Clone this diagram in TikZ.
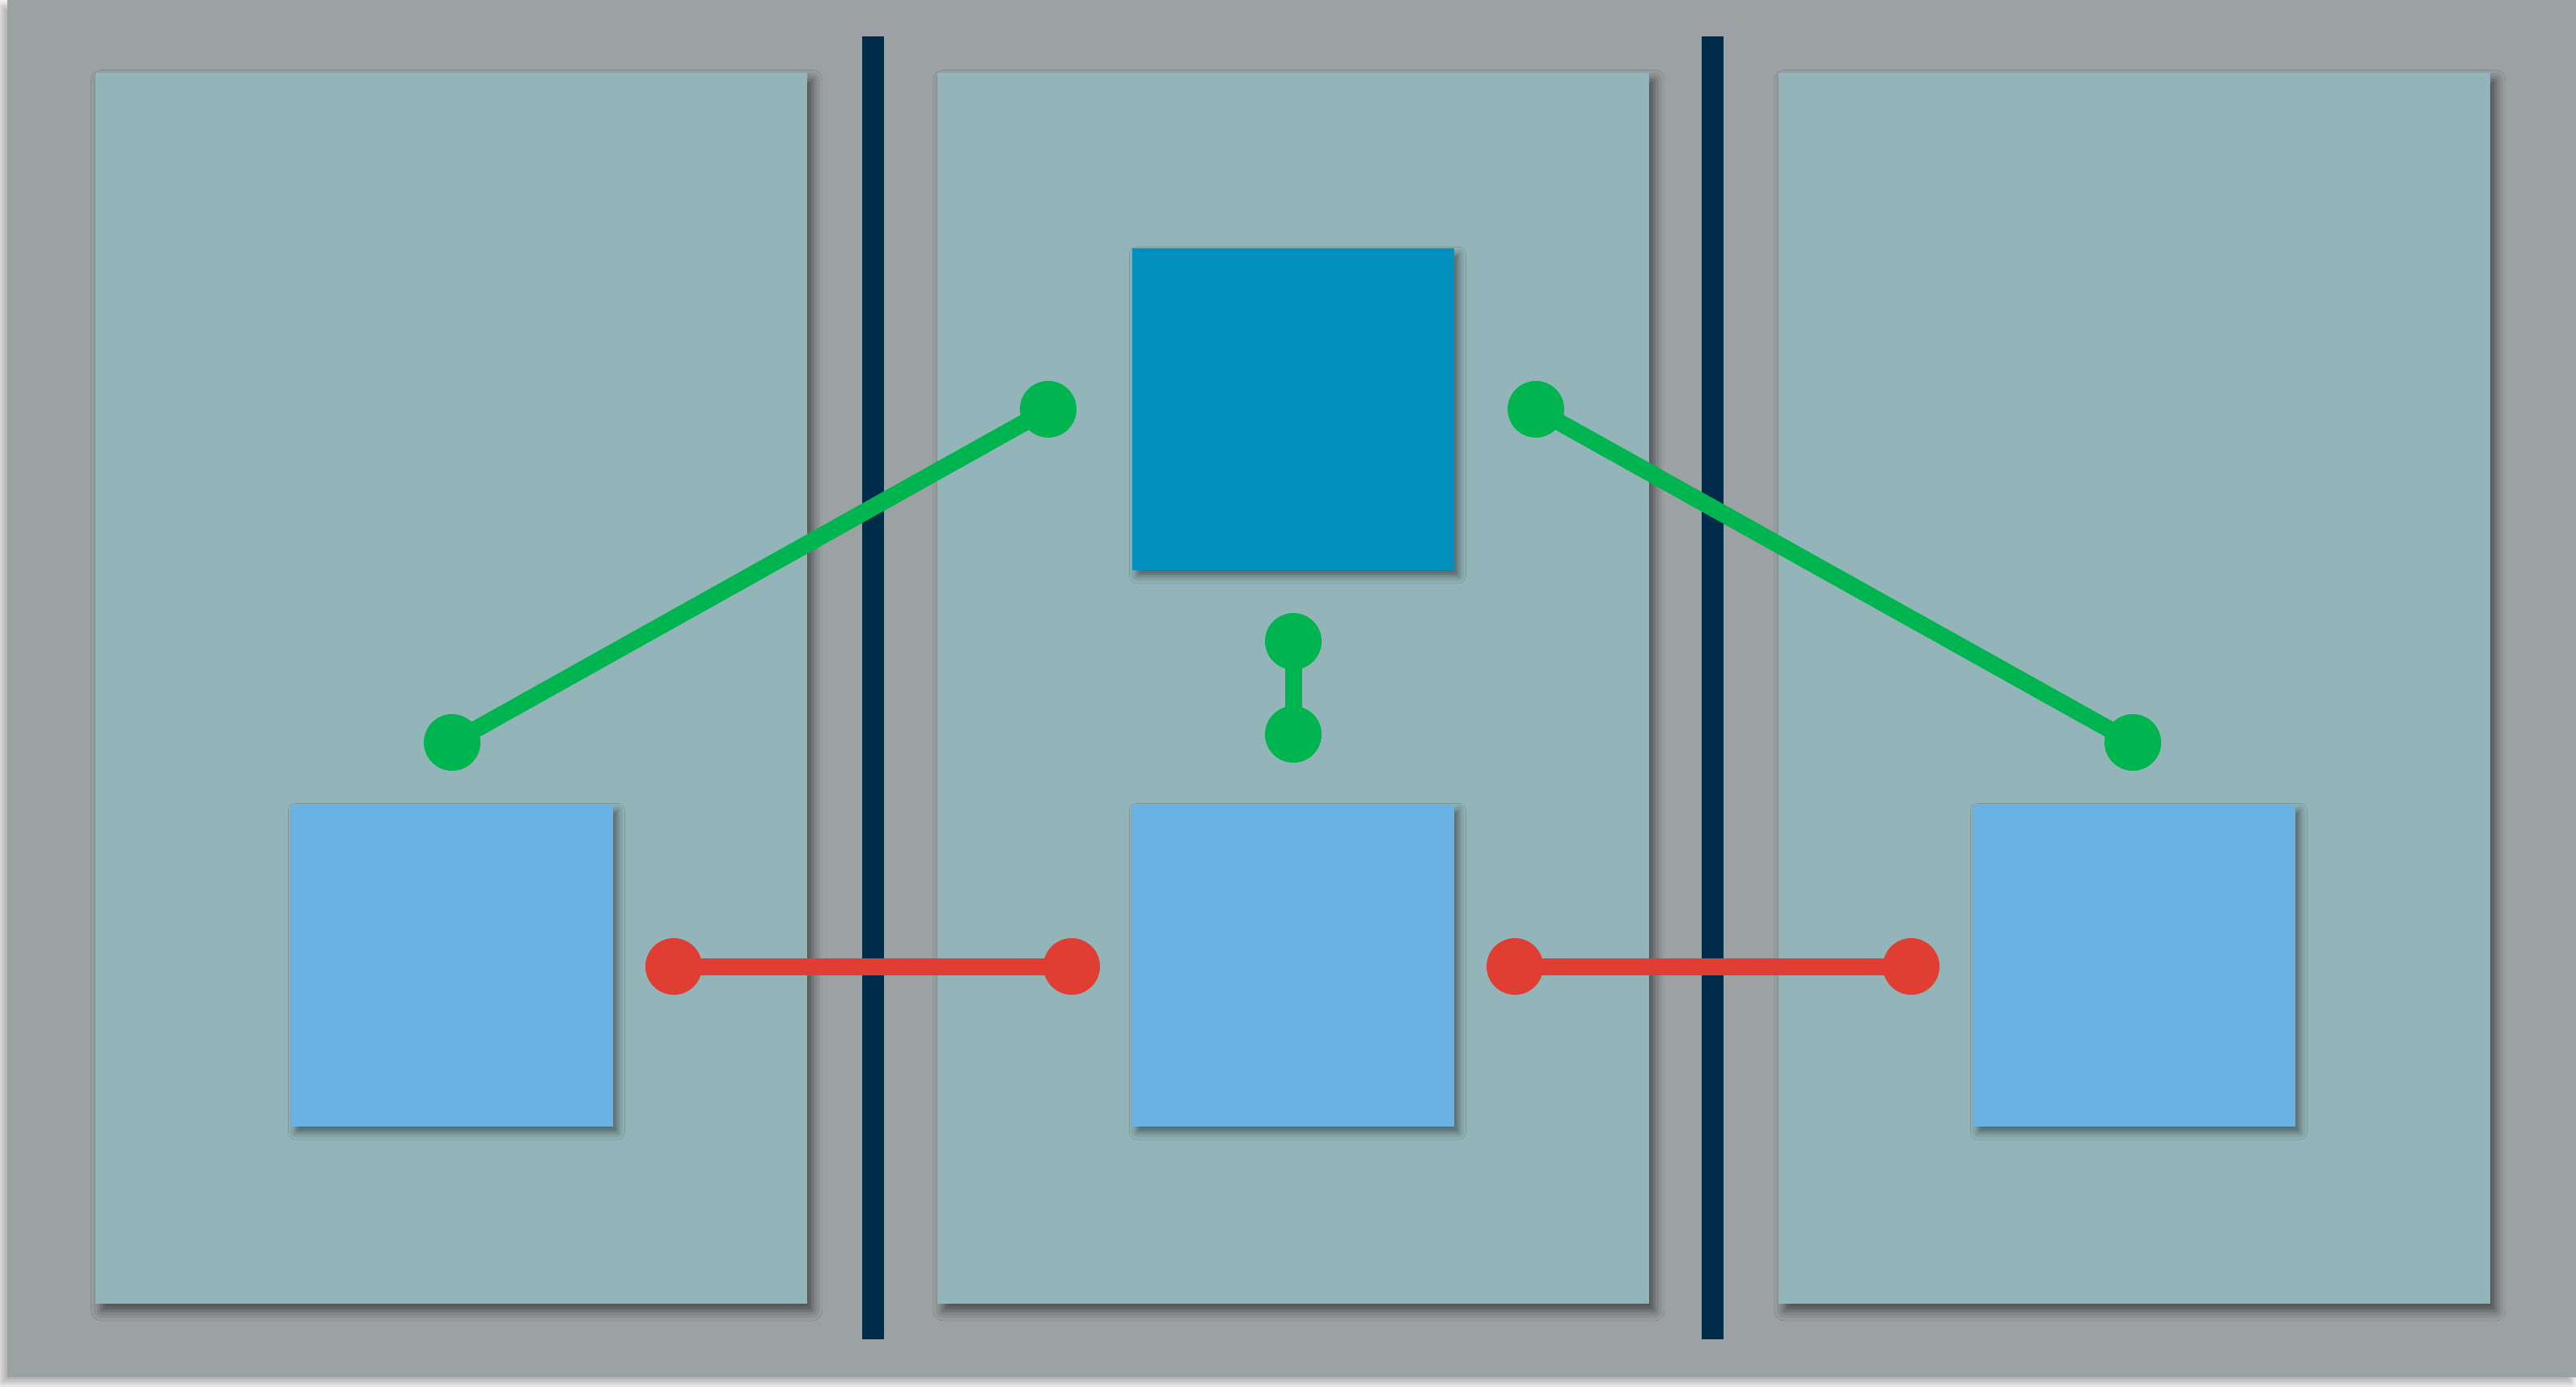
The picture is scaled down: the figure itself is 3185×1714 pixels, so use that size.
\documentclass[tikz,border=0pt]{standalone}
\usetikzlibrary{shadows.blur}
\definecolor{bggray}{HTML}{9CA1A3}
\definecolor{panelc}{HTML}{93B5B9}
\definecolor{barc}{HTML}{002B49}
\definecolor{darksq}{HTML}{0091C0}
\definecolor{lightsq}{HTML}{6AB1E4}
\definecolor{greenc}{HTML}{00B550}
\definecolor{redc}{HTML}{E03E33}
\pgfdeclarelayer{back}
\pgfdeclarelayer{lines}
\pgfsetlayers{back,lines,main}
\tikzset{
  panel/.style={fill=panelc, anchor=north west, inner sep=0pt, outer sep=0pt,
    minimum width=8.79cm, minimum height=15.21cm,
    blur shadow={shadow xshift=2pt, shadow yshift=-2.5pt, shadow blur radius=3.5pt, shadow opacity=55}},
  sep/.style={fill=barc, anchor=north west, inner sep=0pt, outer sep=0pt,
    minimum width=0.27cm, minimum height=16.10cm},
  sq/.style={anchor=north west, inner sep=0pt, outer sep=0pt,
    minimum width=3.98cm, minimum height=3.98cm,
    blur shadow={shadow xshift=1.5pt, shadow yshift=-2pt, shadow blur radius=2.5pt, shadow opacity=45}},
  gdot/.style={circle, fill=greenc, inner sep=0pt, outer sep=0pt, minimum size=0.70cm},
  rdot/.style={circle, fill=redc, inner sep=0pt, outer sep=0pt, minimum size=0.70cm},
  glink/.style={draw=greenc, line width=0.21cm},
  rlink/.style={draw=redc, line width=0.21cm},
}
\begin{document}
\begin{tikzpicture}[x=0.01cm, y=-0.01cm]
\begin{pgfonlayer}{back}
\useasboundingbox[fill=white] (0,0) rectangle (3185,1714);
\node[fill=bggray, anchor=north west, inner sep=0pt, outer sep=0pt,
  minimum width=31.76cm, minimum height=17.02cm,
  blur shadow={shadow xshift=-2pt, shadow yshift=-2pt, shadow blur radius=3pt, shadow opacity=35}] (bg) at (9,0) {};
% panels
\node[panel] (p1) at (118,90) {};
\node[panel] (p2) at (1159,90) {};
\node[panel] (p3) at (2199,90) {};
% separators
\node[sep] (s1) at (1066,45) {};
\node[sep] (s2) at (2104,45) {};
% squares
\node[sq, fill=darksq] (top) at (1400,307) {};
\node[sq, fill=lightsq] (left) at (360,995) {};
\node[sq, fill=lightsq] (mid) at (1400,995) {};
\node[sq, fill=lightsq] (right) at (2440,995) {};
\end{pgfonlayer}
% dots
\node[gdot] (gL) at (559,918) {};
\node[gdot] (gC1) at (1296,506) {};
\node[gdot] (gC2) at (1899,506) {};
\node[gdot] (gR) at (2637,918) {};
\node[gdot] (gV1) at (1599,793) {};
\node[gdot] (gV2) at (1599,908) {};
\node[rdot] (r1) at (833,1195) {};
\node[rdot] (r2) at (1325,1195) {};
\node[rdot] (r3) at (1873,1195) {};
\node[rdot] (r4) at (2363,1195) {};
% links
\begin{pgfonlayer}{lines}
\draw[glink] (gL.center) -- (gC1.center);
\draw[glink] (gC2.center) -- (gR.center);
\draw[glink] (gV1.center) -- (gV2.center);
\draw[rlink] (r1.center) -- (r2.center);
\draw[rlink] (r3.center) -- (r4.center);
\end{pgfonlayer}
\end{tikzpicture}
\end{document}
